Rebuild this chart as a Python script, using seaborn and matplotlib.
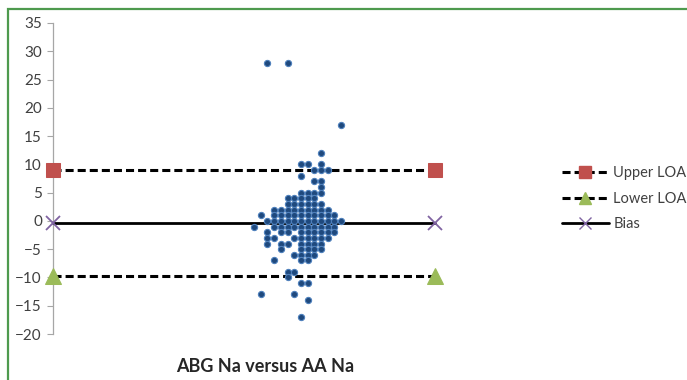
import seaborn as sns
import matplotlib.pyplot as plt
import matplotlib.patches as mpatches
from matplotlib.lines import Line2D
import pandas as pd

# mean (x) and difference (y) of ABG vs AA sodium
diff_rows = {
    28: [138.0, 139.5],
    17: [143.5],
    12: [142.0],
    10: [140.5, 141.0, 142.0],
    9: [141.5, 142.0, 142.5],
    8: [140.5],
    7: [141.5, 142.0],
    6: [142.0],
    5: [140.5, 141.0, 141.5, 142.0],
    4: [139.5, 140.0, 140.5, 141.0, 141.5],
    3: [139.5, 140.0, 140.5, 141.0, 141.5, 142.0],
    2: [138.5, 139.0, 139.5, 140.0, 140.5, 141.0, 141.5, 142.0, 142.5],
    1: [137.5, 138.5, 139.0, 139.5, 140.0, 140.5, 141.0, 141.5, 142.0, 142.5, 143.0],
    0: [138.0, 138.5, 139.0, 139.5, 140.0, 140.5, 141.0, 141.5, 142.0, 142.5, 143.0, 143.5],
    -1: [137.0, 138.5, 139.0, 139.5, 140.0, 140.5, 141.0, 141.5, 142.0, 142.5, 143.0],
    -2: [138.0, 139.0, 139.5, 140.5, 141.0, 141.5, 142.0, 142.5, 143.0],
    -3: [138.0, 138.5, 140.0, 140.5, 141.0, 141.5, 142.0, 142.5],
    -4: [138.0, 139.0, 139.5, 140.5, 141.0, 141.5, 142.0],
    -5: [139.0, 140.5, 141.0, 141.5, 142.0],
    -6: [140.0, 140.5, 141.0, 141.5],
    -7: [138.5, 140.5, 141.0],
    -9: [139.5, 140.0],
    -10: [139.5],
    -11: [140.5, 141.0],
    -13: [137.5, 140.0],
    -14: [141.0],
    -17: [140.5],
}

x_range = [122.0, 150.5]
upper_loa = 9.0
lower_loa = -9.7
bias = -0.3

pts = pd.DataFrame(
    [(x, d) for d, xs in diff_rows.items() for x in xs], columns=["mean", "diff"]
)

sns.set_style("white")
plt.rcParams['font.family'] = ['Lato', 'DejaVu Sans']
plt.rcParams['lines.scale_dashes'] = False

fig = plt.figure(figsize=(6.87, 3.80), dpi=100)
ax = fig.add_axes([53 / 687, 1 - 334 / 380, (435 - 53) / 687, (334 - 23) / 380])

dash = (0, (5.8, 2.9))
sns.lineplot(x=x_range, y=[upper_loa] * 2, ax=ax, color='black', lw=2.2,
             linestyle=dash, marker='s', markersize=10.5, markerfacecolor='#C0504D',
             markeredgecolor='#C0504D', clip_on=False, zorder=3)
sns.lineplot(x=x_range, y=[lower_loa] * 2, ax=ax, color='black', lw=2.2,
             linestyle=dash, marker='^', markersize=11, markerfacecolor='#9BBB59',
             markeredgecolor='#9BBB59', clip_on=False, zorder=3)
sns.lineplot(x=x_range, y=[bias] * 2, ax=ax, color='black', lw=2.0,
             marker='x', markersize=10, markeredgecolor='#8064A2',
             markeredgewidth=1.3, clip_on=False, zorder=3)

sns.scatterplot(data=pts, x="mean", y="diff", ax=ax, s=20, color='#1F497D',
                edgecolor='#4F81BD', linewidth=0.8, zorder=4)

ax.set_xlim(*x_range)
ax.set_ylim(-20, 35)
ax.set_yticks(range(-20, 36, 5))
ax.set_xticks([])
ax.set_xlabel('')
ax.set_ylabel('')
ax.tick_params(axis='y', left=True, length=4, width=0.8, color='#A6A6A6',
               labelsize=11, labelcolor='#404040', pad=4)
for s in ['top', 'right', 'bottom']:
    ax.spines[s].set_visible(False)
ax.spines['left'].set_color('#A6A6A6')
ax.spines['left'].set_linewidth(0.9)

handles = [
    Line2D([], [], color='black', lw=2.2, linestyle=dash, marker='s', markersize=8,
           markerfacecolor='#C0504D', markeredgecolor='#C0504D'),
    Line2D([], [], color='black', lw=2.2, linestyle=dash, marker='^', markersize=8,
           markerfacecolor='#9BBB59', markeredgecolor='#9BBB59'),
    Line2D([], [], color='black', lw=2.0, marker='x', markersize=8,
           markeredgecolor='#8064A2', markeredgewidth=1.0),
]
fig.legend(handles, ['Upper LOA', 'Lower LOA', 'Bias'], loc='upper left',
           bbox_to_anchor=(549 / 687, 1 - 153 / 380), frameon=False,
           fontsize=10.5, handlelength=3.2, handletextpad=0.3, labelspacing=0.8,
           labelcolor='#404040')

fig.text(265 / 687, 1 - 366 / 380, 'ABG Na versus AA Na', ha='center', va='center',
         fontsize=13, fontweight='bold', color='#262626')

fig.patches.append(mpatches.Rectangle((8 / 687, -0.2), 1.2, 1.2 - 9 / 380,
                                      transform=fig.transFigure, fill=False,
                                      edgecolor='#4E9A4E', lw=1.6, clip_on=False))

fig.savefig("out.png", dpi=100)
